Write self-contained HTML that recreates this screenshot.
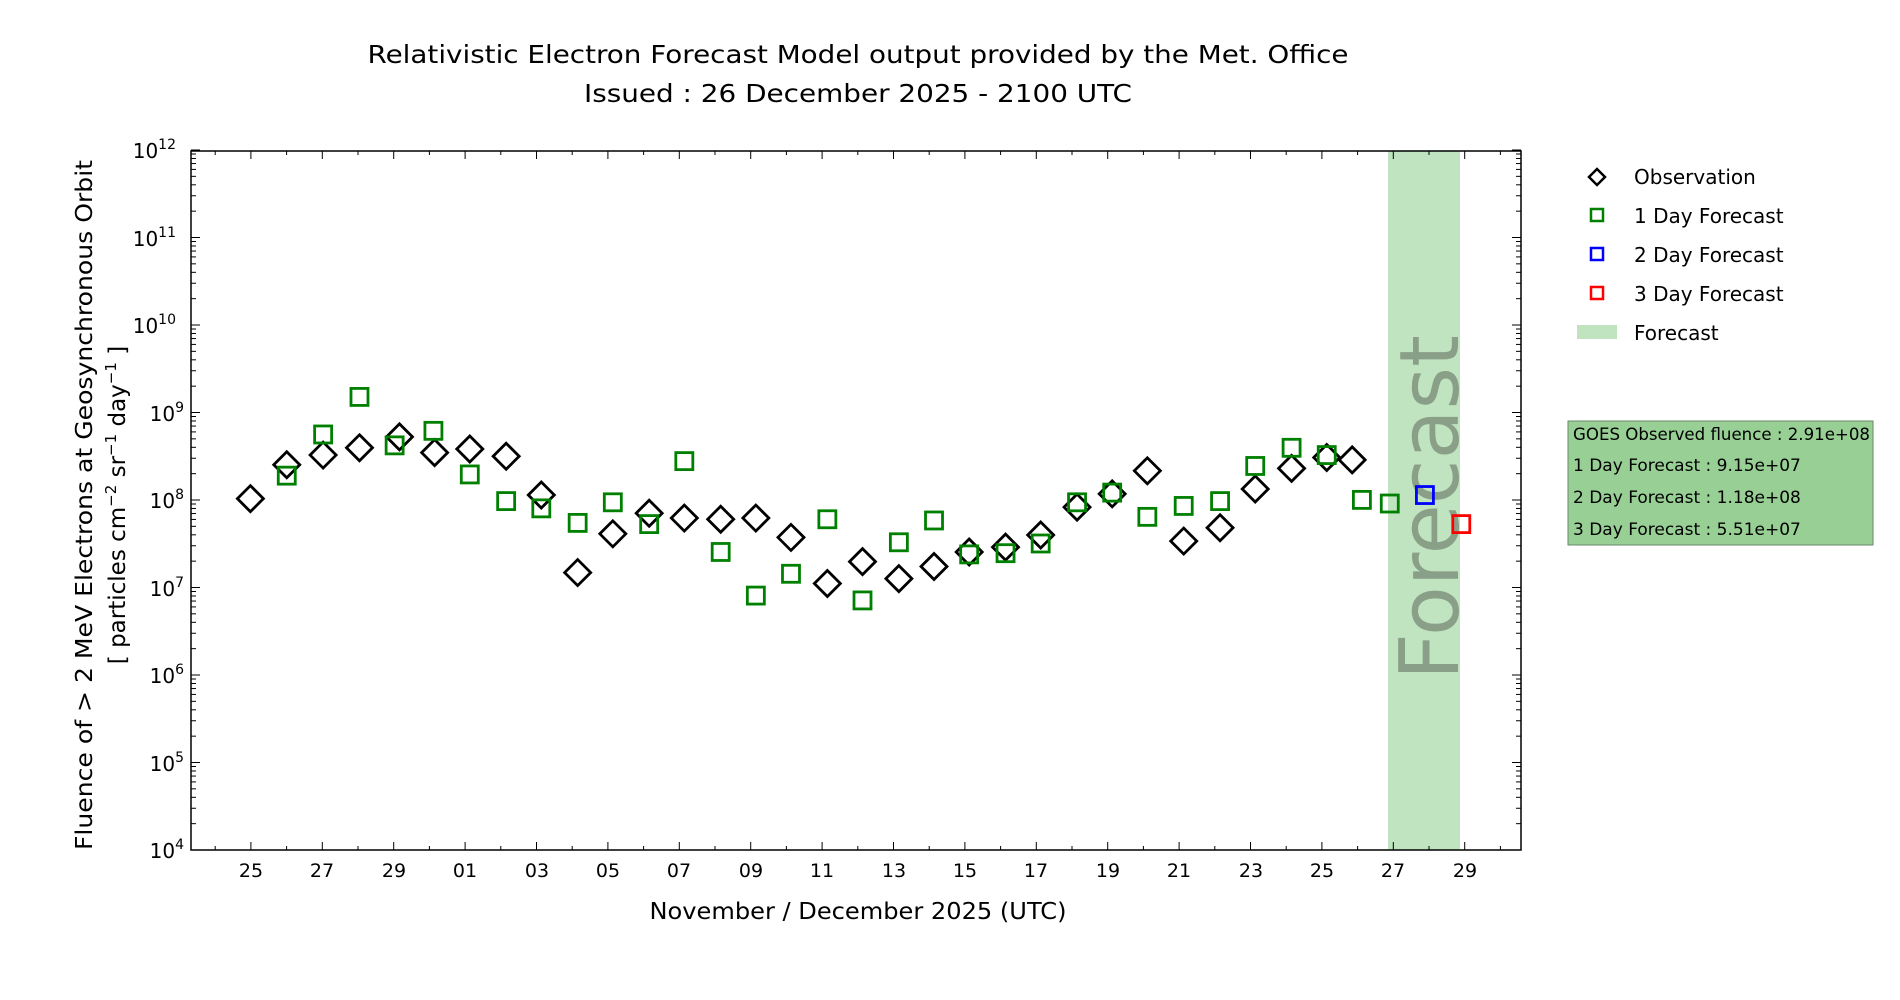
<!DOCTYPE html>
<html><head><meta charset="utf-8"><style>
html,body{margin:0;padding:0;background:#fff;}
svg{display:block;font-family:"DejaVu Sans","Liberation Sans",sans-serif;}
</style></head><body>
<svg id="s" width="1900" height="1000" viewBox="0 0 1900 1000" xmlns="http://www.w3.org/2000/svg">
<rect width="1900" height="1000" fill="#fff"/>
<text x="858" y="63" font-size="25" text-anchor="middle" textLength="981" lengthAdjust="spacingAndGlyphs">Relativistic Electron Forecast Model output provided by the Met. Office</text>
<text x="858" y="102" font-size="25" text-anchor="middle" textLength="548" lengthAdjust="spacingAndGlyphs">Issued : 26 December 2025 - 2100 UTC</text>
<rect x="1388" y="151" width="72" height="699" fill="#c0e4c0"/>
<text transform="translate(1458,680) rotate(-90)" font-size="82" fill="#8a9f88" textLength="345" lengthAdjust="spacingAndGlyphs">Forecast</text>
<g id="ticks" stroke="#000" stroke-width="1"></g>
<g id="pts" fill="none"></g>
<rect x="191" y="151" width="1330" height="699" fill="none" stroke="#000" stroke-width="1.5"/>
<g font-size="20" text-anchor="end">
<text x="176" y="158">10<tspan font-size="14" dy="-9">12</tspan></text>
<text x="176" y="246">10<tspan font-size="14" dy="-9">11</tspan></text>
<text x="176" y="333">10<tspan font-size="14" dy="-9">10</tspan></text>
<text x="184" y="421">10<tspan font-size="14" dy="-9">9</tspan></text>
<text x="184" y="508">10<tspan font-size="14" dy="-9">8</tspan></text>
<text x="184" y="596">10<tspan font-size="14" dy="-9">7</tspan></text>
<text x="184" y="683">10<tspan font-size="14" dy="-9">6</tspan></text>
<text x="184" y="771">10<tspan font-size="14" dy="-9">5</tspan></text>
<text x="184" y="858">10<tspan font-size="14" dy="-9">4</tspan></text>
</g>
<g font-size="19" text-anchor="middle" id="xl">
<text x="251" y="877">25</text><text x="322" y="877">27</text><text x="394" y="877">29</text><text x="465" y="877">01</text><text x="537" y="877">03</text><text x="608" y="877">05</text><text x="679" y="877">07</text><text x="751" y="877">09</text><text x="822" y="877">11</text><text x="894" y="877">13</text><text x="965" y="877">15</text><text x="1036" y="877">17</text><text x="1108" y="877">19</text><text x="1179" y="877">21</text><text x="1251" y="877">23</text><text x="1322" y="877">25</text><text x="1393" y="877">27</text><text x="1465" y="877">29</text>
</g>
<text x="858" y="919" font-size="23" text-anchor="middle" textLength="417" lengthAdjust="spacingAndGlyphs">November / December 2025 (UTC)</text>
<text transform="translate(92,505) rotate(-90)" font-size="23" text-anchor="middle" textLength="690" lengthAdjust="spacingAndGlyphs">Fluence of &gt; 2 MeV Electrons at Geosynchronous Orbit</text>
<text transform="translate(125,505) rotate(-90)" font-size="23" text-anchor="middle">[ particles cm<tspan font-size="15" dy="-9">−2</tspan><tspan dy="9"> sr</tspan><tspan font-size="15" dy="-9">−1</tspan><tspan dy="9"> day</tspan><tspan font-size="15" dy="-9">−1</tspan><tspan dy="9"> ]</tspan></text>
<g font-size="20">
<path d="M1597 169 L1605 177 L1597 185 L1589 177 Z" fill="none" stroke="#000" stroke-width="2.5"/>
<text x="1634" y="184">Observation</text>
<rect x="1591" y="209" width="12" height="12" fill="none" stroke="#008000" stroke-width="2.5"/>
<text x="1634" y="223">1 Day Forecast</text>
<rect x="1591" y="248" width="12" height="12" fill="none" stroke="#0000ff" stroke-width="2.5"/>
<text x="1634" y="262">2 Day Forecast</text>
<rect x="1591" y="287" width="12" height="12" fill="none" stroke="#ff0000" stroke-width="2.5"/>
<text x="1634" y="301">3 Day Forecast</text>
<rect x="1577" y="325" width="40" height="14" fill="#c0e4c0"/>
<text x="1634" y="340">Forecast</text>
</g>
<rect x="1568" y="421" width="305" height="124" fill="#97cf94" stroke="#6a8a6a" stroke-width="1"/>
<g font-size="17">
<text x="1573" y="440" textLength="297" lengthAdjust="spacingAndGlyphs">GOES Observed fluence : 2.91e+08</text>
<text x="1573" y="471">1 Day Forecast : 9.15e+07</text>
<text x="1573" y="503">2 Day Forecast : 1.18e+08</text>
<text x="1573" y="535">3 Day Forecast : 5.51e+07</text>
</g>
</svg>
<script>
var NS="http://www.w3.org/2000/svg";
function el(p,t,a){var e=document.createElementNS(NS,t);for(var k in a)e.setAttribute(k,a[k]);p.appendChild(e);return e;}
var tg=document.getElementById("ticks"),pg=document.getElementById("pts");
function X(d){return 250.9+35.7*d;}
for(var d=-1;d<=35;d++){var x=X(d),L=(d%2==0)?8:4;
 el(tg,"line",{x1:x,y1:850,x2:x,y2:850-L});el(tg,"line",{x1:x,y1:151,x2:x,y2:151+L});}
for(var k=4;k<=12;k++){var y0=850-(k-4)*87.5;
 el(tg,"line",{x1:191,y1:y0,x2:200,y2:y0});el(tg,"line",{x1:1521,y1:y0,x2:1512,y2:y0});
 if(k<12)for(var m=2;m<=9;m++){var y=y0-Math.log10(m)*87.5;
  el(tg,"line",{x1:191,y1:y,x2:196,y2:y});el(tg,"line",{x1:1521,y1:y,x2:1516,y2:y});}}
function ax(x){return 191+(x-157)*1.2121;}function ay(y){return 151+(y-124)*1.2114;}
var obs=[[206,411],[236,383],[266,375],[296,369],[329,360],[358,373],[387,370],[417,376],[446,408],[476,472],[505,440],[535,423],[564,427],[594,428],[623,427],[652,443],[682,481],[711,463],[741,477],[770,467],[799,455],[829,451],[858,441],[888,418],[917,407],[946,388],[976,446],[1006,435],[1035,403],[1065,386],[1094,377],[1115,379]];
var f1=[[236,392],[266,358],[296,327],[325,367],[357,355],[387,391],[417,413],[446,419],[476,431],[505,414],[535,432],[564,380],[594,455],[623,491],[652,473],[682,428],[711,495],[741,447],[770,429],[799,457],[829,456],[858,448],[888,414],[917,406],[946,426],[976,417],[1006,413],[1035,384],[1065,369],[1094,375],[1123,412],[1146,415]];
function sq(p,c){var x=ax(p[0]),y=ay(p[1]);el(pg,"rect",{x:x-8.5,y:y-8.5,width:17,height:17,stroke:c,"stroke-width":2.8,fill:"none"});}
obs.forEach(function(p){var x=ax(p[0]),y=ay(p[1]),h=13;
 el(pg,"path",{d:"M"+x+" "+(y-h)+" L"+(x+h)+" "+y+" L"+x+" "+(y+h)+" L"+(x-h)+" "+y+" Z",stroke:"#000","stroke-width":2.8,fill:"none"});});
f1.forEach(function(p){sq(p,"#008000");});
sq([1175,408],"#0000ff");sq([1205,432],"#ff0000");
</script>
</body></html>
